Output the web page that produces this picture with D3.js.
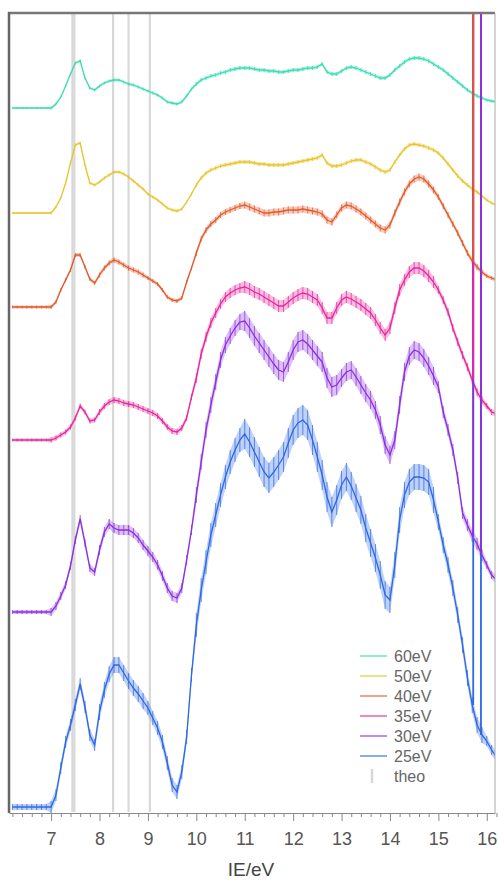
<!DOCTYPE html>
<html>
<head>
<meta charset="utf-8">
<script src="https://cdn.jsdelivr.net/npm/d3@7"></script>
<style>
  body { margin: 0; background: #fff; }
  svg { display: block; font-family: "Liberation Sans", Arial, sans-serif; }
</style>
</head>
<body>
<svg id="chart" width="498" height="883"></svg>
<script>
// photon ionisation energy grid (eV), 0.1 eV steps
const energies = [
  6.2, 6.3, 6.4, 6.5, 6.6, 6.7, 6.8, 6.9, 7.0, 7.1,
  7.2, 7.3, 7.4, 7.5, 7.6, 7.7, 7.8, 7.9, 8.0, 8.1,
  8.2, 8.3, 8.4, 8.5, 8.6, 8.7, 8.8, 8.9, 9.0, 9.1,
  9.2, 9.3, 9.4, 9.5, 9.6, 9.7, 9.8, 9.9, 10.0, 10.1,
  10.2, 10.3, 10.4, 10.5, 10.6, 10.7, 10.8, 10.9, 11.0, 11.1,
  11.2, 11.3, 11.4, 11.5, 11.6, 11.7, 11.8, 11.9, 12.0, 12.1,
  12.2, 12.3, 12.4, 12.5, 12.6, 12.7, 12.8, 12.9, 13.0, 13.1,
  13.2, 13.3, 13.4, 13.5, 13.6, 13.7, 13.8, 13.9, 14.0, 14.1,
  14.2, 14.3, 14.4, 14.5, 14.6, 14.7, 14.8, 14.9, 15.0, 15.1,
  15.2, 15.3, 15.4, 15.5, 15.6, 15.7, 15.8, 15.9, 16.0, 16.1,
  16.2
];

// signal (a.u.) for each photon energy
const sig60 = [
  0, 0, 0, 0, 0, 0, 0, 0, 0, 4,
  11, 22, 34, 45, 47, 30, 20, 18, 22, 25,
  27, 28, 28, 26, 24, 23, 21, 19, 17, 15,
  13, 10, 6, 5, 4, 6, 12, 19, 24, 28,
  30, 32, 33, 35, 36, 38, 39, 40, 40, 40,
  39, 38, 38, 37, 37, 36, 36, 37, 38, 38,
  39, 40, 40, 41, 44, 36, 34, 34, 37, 40,
  41, 40, 38, 36, 34, 32, 30, 30, 33, 38,
  42, 46, 49, 50, 50, 49, 47, 44, 41, 38,
  34, 30, 26, 22, 18, 15, 12, 10, 8, 7,
  6
];
const sig50 = [
  0, 0, 0, 0, 0, 0, 0, 0, 0, 6,
  15, 30, 50, 68, 70, 48, 30, 28, 31, 35,
  38, 41, 41, 39, 36, 32, 28, 24, 19, 16,
  13, 9, 5, 3, 2, 4, 11, 19, 28, 35,
  40, 43, 45, 47, 48, 49, 50, 51, 51, 51,
  50, 49, 49, 48, 48, 48, 48, 49, 50, 51,
  52, 53, 54, 55, 58, 50, 47, 47, 48, 50,
  52, 53, 53, 51, 49, 46, 43, 41, 43, 51,
  58, 64, 68, 69, 68, 67, 65, 63, 60, 55,
  49, 43, 37, 32, 28, 24, 21, 17, 13, 10,
  8
];
const sig40 = [
  0, 0, 0, 0, 0, 0, 0, 0, 0, 5,
  17, 27, 37, 52, 52, 40, 28, 24, 32, 39,
  44, 47, 45, 42, 39, 37, 35, 32, 29, 26,
  23, 17, 10, 7, 6, 9, 25, 39, 54, 68,
  77, 83, 87, 92, 95, 97, 99, 101, 102, 100,
  98, 96, 94, 94, 95, 95, 96, 97, 97, 97,
  98, 97, 96, 95, 93, 87, 85, 92, 99, 102,
  101, 98, 95, 91, 87, 83, 79, 77, 82, 94,
  105, 115, 123, 128, 130, 128, 123, 117, 110, 101,
  92, 83, 74, 64, 54, 46, 40, 35, 31, 29,
  27
];
const sig35 = [
  0, 0, 0, 0, 0, 0, 0, 0, 0, 2,
  5, 8, 13, 22, 34, 28, 19, 20, 28, 34,
  38, 40, 39, 37, 36, 35, 33, 31, 29, 27,
  24, 19, 13, 9, 8, 12, 22, 43, 62, 86,
  103, 117, 127, 136, 143, 147, 150, 152, 153, 151,
  148, 146, 143, 140, 137, 134, 134, 138, 142, 145,
  147, 146, 143, 140, 132, 122, 122, 132, 140, 143,
  141, 138, 135, 131, 127, 120, 112, 105, 112, 132,
  150, 160, 168, 172, 172, 169, 164, 158, 150, 140,
  128, 112, 98, 85, 73, 60, 48, 40, 34, 28,
  26
];
const sig30 = [
  0, 0, 0, 0, 0, 0, 0, 0, 0, 6,
  16, 27, 46, 72, 93, 69, 44, 40, 62, 80,
  88, 84, 82, 82, 82, 79, 74, 67, 61, 55,
  47, 36, 24, 16, 14, 24, 52, 82, 117, 150,
  182, 207, 230, 252, 267, 276, 284, 290, 291, 284,
  276, 269, 262, 255, 248, 242, 240, 250, 262, 270,
  272, 268, 262, 256, 250, 234, 225, 227, 234, 240,
  242, 235, 227, 219, 212, 202, 187, 167, 157, 172,
  207, 240, 256, 262, 260, 254, 246, 236, 225, 200,
  182, 162, 134, 99, 87, 76, 68, 57, 47, 37,
  32
];
const sig25 = [
  0, 0, 0, 0, 0, 0, 0, 0, 0, 12,
  39, 65, 82, 102, 123, 100, 72, 62, 95, 117,
  133, 142, 142, 134, 126, 119, 113, 106, 99, 89,
  79, 65, 44, 22, 15, 35, 70, 132, 182, 217,
  245, 272, 292, 312, 330, 345, 357, 367, 373, 365,
  355, 345, 335, 329, 335, 342, 350, 364, 377, 384,
  387, 382, 367, 350, 332, 310, 295, 307, 322, 330,
  321, 309, 297, 279, 264, 249, 232, 212, 207, 242,
  287, 312, 325, 330, 330, 329, 325, 307, 285, 262,
  242, 219, 192, 162, 129, 102, 82, 72, 66, 57,
  50
];

// scatter of each spectrum (a.u.), one value per 1 eV bin starting at 6 eV
const err60 = [1, 1.5, 1.5, 1.5, 2, 2, 2, 2, 2, 2, 1.5];
const err50 = [1, 1.5, 1.5, 1.5, 2, 2, 2, 2, 2, 2, 1.5];
const err40 = [1.5, 2, 2.5, 2, 3, 3.5, 3.5, 3.5, 3.5, 3, 2];
const err35 = [1.5, 2.5, 3, 3, 5, 6, 6, 6, 6, 4, 3];
const err30 = [2, 4, 5, 5, 8, 10, 10, 9, 9, 6, 4];
const err25 = [3, 6, 8, 7, 12, 15, 15, 14, 13, 8, 5];

// vertical offsets used to stack the spectra (a.u.)
const offsets = [704, 599, 505, 372, 200, 5];
const labels = ["60eV", "50eV", "40eV", "35eV", "30eV", "25eV"];

// theoretical ionisation energies (eV)
const theoEnergies = [7.44, 7.48, 8.28, 8.6, 9.04];

// detector glitches near the end of the scan
const spikeEnergies = [15.72, 15.88];
const spikeSeriesA = ["25eV", "30eV", "35eV", "40eV"];
const spikeSeriesB = ["25eV", "35eV", "30eV"];

const majorTicks = [7, 8, 9, 10, 11, 12, 13, 14, 15, 16];

const colors = ["#3cdcb4", "#e9c52c", "#e2592a", "#e8259c", "#8b2fe0", "#2b68e6"];

let svg = d3.select('#chart');

let xScale = d3.scaleLinear().domain([6.13, 16.17]).range([9, 495]);
let yScale = d3.scaleLinear().domain([0, 800]).range([812, 12]);

svg.append('defs').append('clipPath').attr('id', 'plotClip')
  .append('rect')
    .attr('x', 9).attr('y', 13)
    .attr('width', 486).attr('height', 800);

// theo lines
svg.append('g')
  .selectAll('line')
  .data(theoEnergies)
  .enter()
  .append('line')
    .attr('x1', d => xScale(d))
    .attr('x2', d => xScale(d))
    .attr('y1', yScale(800))
    .attr('y2', yScale(0))
    .attr('stroke', '#d8d8d8')
    .attr('stroke-width', 2.2);

let allSignals = [sig60, sig50, sig40, sig35, sig30, sig25];
let allErrors = [err60, err50, err40, err35, err30, err25];

let series = labels.map((name, i) => {
  return {
    name: name,
    color: colors[i],
    points: energies.map((e, j) => {
      let bin = Math.min(allErrors[i].length - 1, Math.floor(e + 1e-6) - 6);
      return {e: e, v: offsets[i] + allSignals[i][j], err: allErrors[i][bin]};
    })
  };
});

let plot = svg.append('g').attr('clip-path', 'url(#plotClip)');

let line = d3.line()
  .x(d => xScale(d.e))
  .y(d => yScale(d.v));

let band = d3.area()
  .x(d => xScale(d.e))
  .y0(d => yScale(d.v - d.err))
  .y1(d => yScale(d.v + d.err));

// bottom spectrum first, top one last
for (let s of series.slice().reverse()) {
  let g = plot.append('g');
  g.append('path')
    .datum(s.points)
    .attr('d', band)
    .attr('fill', s.color)
    .attr('opacity', 0.3);
  g.selectAll('line')
    .data(s.points)
    .enter()
    .append('line')
      .attr('x1', d => xScale(d.e))
      .attr('x2', d => xScale(d.e))
      .attr('y1', d => yScale(d.v - d.err))
      .attr('y2', d => yScale(d.v + d.err))
      .attr('stroke', s.color)
      .attr('stroke-width', 0.9)
      .attr('opacity', 0.8);
  g.append('path')
    .datum(s.points)
    .attr('d', line)
    .attr('fill', 'none')
    .attr('stroke', s.color)
    .attr('stroke-width', 1.3);
}

// glitches: vertical runs from the curve off the top of the plot
function drawSpikes(energy, names) {
  for (let name of names) {
    let s = series.find(d => d.name === name);
    let nearest = s.points.reduce((a, b) => Math.abs(b.e - energy) < Math.abs(a.e - energy) ? b : a);
    plot.append('line')
      .attr('x1', xScale(energy))
      .attr('x2', xScale(energy))
      .attr('y1', yScale(nearest.v))
      .attr('y2', yScale(800))
      .attr('stroke', s.color)
      .attr('stroke-width', 1.8);
  }
}
drawSpikes(spikeEnergies[0], spikeSeriesA);
drawSpikes(spikeEnergies[1], spikeSeriesB);

// frame
svg.append('line')
  .attr('x1', 8).attr('x2', 495).attr('y1', 13).attr('y2', 13)
  .attr('stroke', '#777').attr('stroke-width', 2.5);
svg.append('line')
  .attr('x1', 9).attr('x2', 9).attr('y1', 12).attr('y2', 813)
  .attr('stroke', '#666').attr('stroke-width', 2.5);
svg.append('line')
  .attr('x1', 495).attr('x2', 495).attr('y1', 13).attr('y2', 813)
  .attr('stroke', '#aaa').attr('stroke-width', 1);

// minor ticks every 0.2 eV
let minorTicks = d3.range(62, 163, 2).map(d => d / 10).filter(d => !majorTicks.includes(d));
let minorAxis = d3.axisBottom(xScale)
  .tickValues(minorTicks)
  .tickSize(4)
  .tickSizeOuter(0)
  .tickFormat('');
svg.append('g')
  .attr('transform', 'translate(0, 813)')
  .call(minorAxis)
  .call(g => g.select('.domain').attr('stroke', '#888'))
  .call(g => g.selectAll('.tick line').attr('stroke', '#888'));

let xAxis = d3.axisBottom(xScale)
  .tickValues(majorTicks)
  .tickSize(8)
  .tickSizeOuter(0)
  .tickPadding(11)
  .tickFormat(d3.format('d'));
svg.append('g')
  .attr('transform', 'translate(0, 813)')
  .call(xAxis)
  .call(g => g.select('.domain').remove())
  .call(g => g.selectAll('.tick line').attr('stroke', '#888'))
  .selectAll('text')
    .attr('font-size', 18)
    .attr('font-family', '"Liberation Sans", Arial, sans-serif')
    .attr('fill', '#555');

svg.append('text')
  .attr('x', 251)
  .attr('y', 876)
  .attr('text-anchor', 'middle')
  .attr('font-size', 19)
  .attr('fill', '#444')
  .text('IE/eV');

// legend
let legend = svg.append('g').attr('transform', 'translate(360, 656)');
labels.forEach((name, i) => {
  let row = legend.append('g').attr('transform', `translate(0, ${i * 20})`);
  row.append('line')
    .attr('x1', 0).attr('x2', 27).attr('y1', 0).attr('y2', 0)
    .attr('stroke', colors[i])
    .attr('stroke-width', 2)
    .attr('opacity', 0.55);
  row.append('text')
    .attr('x', 34).attr('y', 6)
    .attr('font-size', 16)
    .attr('fill', '#666')
    .text(name);
});
let theoRow = legend.append('g').attr('transform', `translate(0, ${labels.length * 20})`);
theoRow.append('line')
  .attr('x1', 12).attr('x2', 12).attr('y1', -7).attr('y2', 7)
  .attr('stroke', '#d8d8d8')
  .attr('stroke-width', 2.5);
theoRow.append('text')
  .attr('x', 34).attr('y', 6)
  .attr('font-size', 16)
  .attr('fill', '#666')
  .text('theo');
</script>
</body>
</html>
